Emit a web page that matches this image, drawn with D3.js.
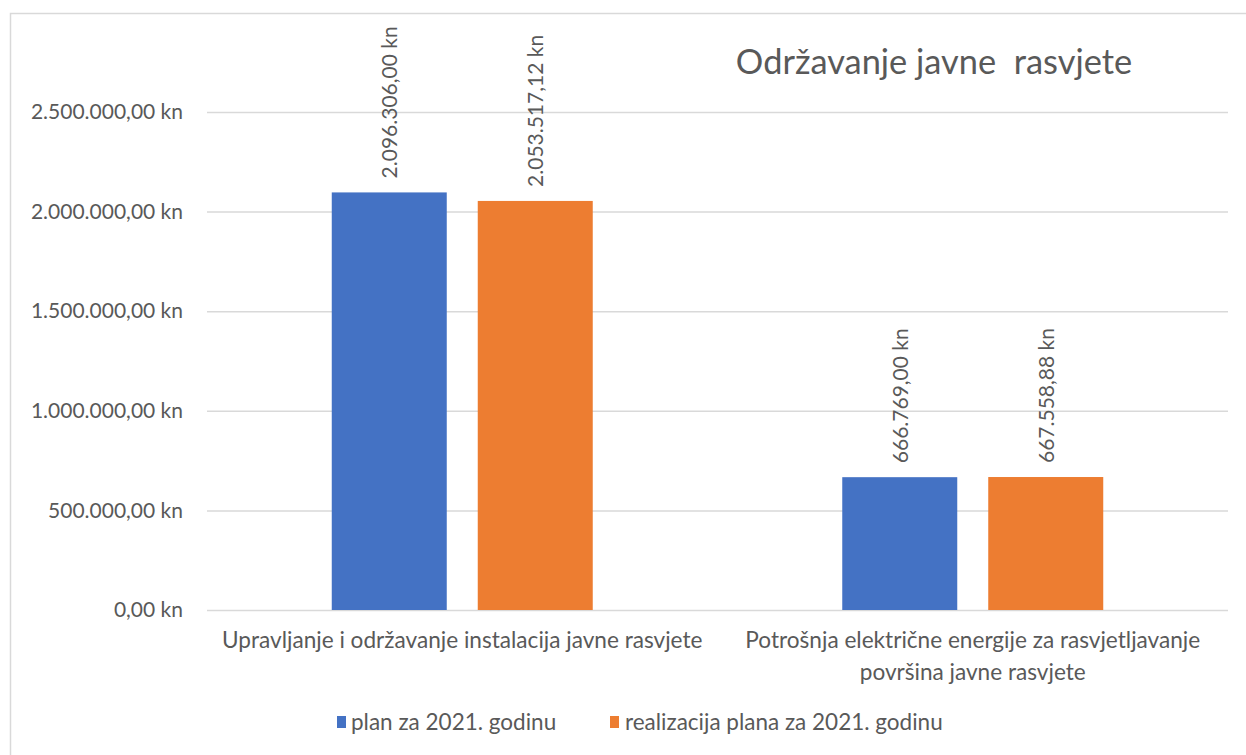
<!DOCTYPE html>
<html>
<head>
<meta charset="utf-8">
<script src="https://cdn.jsdelivr.net/npm/d3@7"></script>
<style>
  html, body { margin: 0; padding: 0; background: #fff; }
  svg { display: block; font-family: Lato, "Open Sans", sans-serif; }
</style>
</head>
<body>
<svg id="chart" width="1246" height="755"></svg>
<script>
const categories = [
  ["Upravljanje i održavanje instalacija javne rasvjete"],
  ["Potrošnja električne energije za rasvjetljavanje", "površina javne rasvjete"]
];
const categoryKeys = ["upravljanje", "potrosnja"];
const seriesNames = ["plan za 2021. godinu", "realizacija plana za 2021. godinu"];
const planValues = [2096306.00, 666769.00];
const realizacijaValues = [2053517.12, 667558.88];
const yTicks = [0, 500000, 1000000, 1500000, 2000000, 2500000];
const titleText = "Održavanje javne\u00a0 rasvjete";

const colors = ["#4472C4", "#ED7D31"];
const textColor = "#595959";
const gridColor = "#d9d9d9";

const hr = d3.formatLocale({decimal: ",", thousands: ".", grouping: [3], currency: ["", " kn"]});
const fmt = hr.format("$,.2f");

const svg = d3.select("#chart");
const W = 1246, H = 755;
const plot = {left: 207, right: 1228, top: 112, bottom: 610};

// chart border (partially visible)
svg.append("path")
  .attr("d", `M10.5,${H} L10.5,13.5 L${W},13.5`)
  .attr("fill", "none").attr("stroke", gridColor).attr("stroke-width", 1.5);

const y = d3.scaleLinear().domain([0, 2500000]).range([plot.bottom, plot.top]);
const x0 = d3.scaleBand().domain(categoryKeys).range([plot.left, plot.right]).paddingInner(0).paddingOuter(0);
const x1 = d3.scaleBand().domain([0, 1]).range([0, x0.bandwidth()]).paddingInner(0.2123).paddingOuter(0.8545);

// gridlines
const yAxis = d3.axisLeft(y).tickValues(yTicks).tickSize(-(plot.right - plot.left)).tickPadding(24).tickFormat(fmt);
const gy = svg.append("g").attr("transform", `translate(${plot.left},0)`).call(yAxis);
gy.select(".domain").remove();
gy.selectAll(".tick line").attr("stroke", gridColor).attr("stroke-width", 1.5);
gy.selectAll(".tick text").attr("fill", textColor).attr("font-size", 21).attr("font-family", "Lato");

// bars
const data = categoryKeys.map((k, i) => ({key: k, values: [planValues[i], realizacijaValues[i]]}));
const groups = svg.append("g").selectAll("g").data(data).join("g")
  .attr("transform", d => `translate(${x0(d.key)},0)`);
groups.selectAll("rect").data(d => d.values.map((v, j) => ({v, j}))).join("rect")
  .attr("x", d => x1(d.j)).attr("width", x1.bandwidth())
  .attr("y", d => y(d.v)).attr("height", d => y(0) - y(d.v))
  .attr("fill", d => colors[d.j]);

// data labels
groups.selectAll("text.lbl").data(d => d.values.map((v, j) => ({v, j}))).join("text")
  .attr("class", "lbl")
  .attr("transform", d => `translate(${x1(d.j) + x1.bandwidth() / 2 + 8},${y(d.v) - 14}) rotate(-90)`)
  .attr("fill", textColor).attr("font-size", 21)
  .text(d => fmt(d.v));

// category labels
const cat = svg.append("g").selectAll("text").data(categoryKeys).join("text")
  .attr("x", d => x0(d) + x0.bandwidth() / 2)
  .attr("y", 648)
  .attr("text-anchor", "middle").attr("fill", textColor).attr("font-size", 22.6);
cat.selectAll("tspan").data((d, i) => categories[i]).join("tspan")
  .attr("x", function() { return this.parentNode.getAttribute("x"); })
  .attr("dy", (d, i) => i === 0 ? 0 : 32)
  .text(d => d);

// title
svg.append("text").attr("x", 934).attr("y", 74).attr("text-anchor", "middle")
  .attr("fill", textColor).attr("font-size", 34.4).text(titleText);

// legend
const legendItems = [{x: 337, tx: 351}, {x: 610, tx: 625}];
const lg = svg.append("g").selectAll("g").data(seriesNames).join("g");
lg.append("rect").attr("x", (d, i) => legendItems[i].x).attr("y", 716).attr("width", 9).attr("height", 12)
  .attr("fill", (d, i) => colors[i]);
lg.append("text").attr("x", (d, i) => legendItems[i].tx).attr("y", 730)
  .attr("fill", textColor).attr("font-size", 22.5).text(d => d);
</script>
</body>
</html>
